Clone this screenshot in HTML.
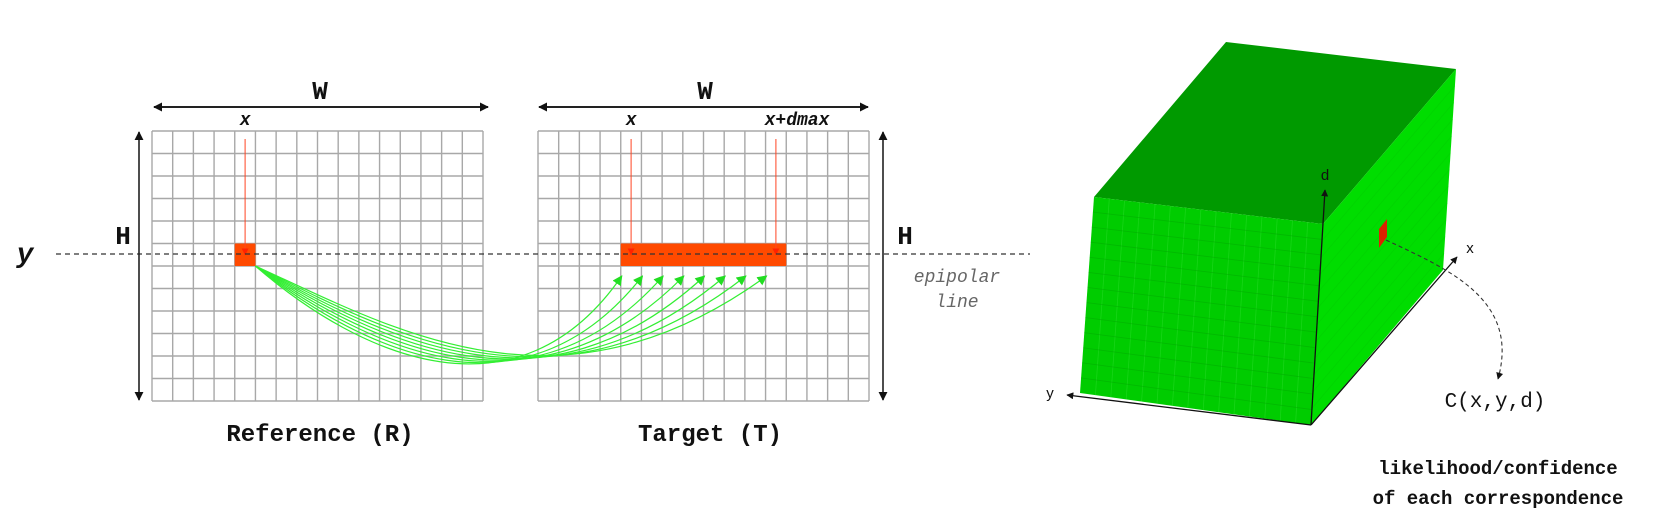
<!DOCTYPE html>
<html><head><meta charset="utf-8"><style>
html,body{margin:0;padding:0;background:#fff;}
svg{display:block;}
.mono{font-family:"Liberation Mono","DejaVu Sans Mono",monospace;font-weight:bold;fill:#111;}
.sans{font-family:"Liberation Sans","DejaVu Sans",sans-serif;fill:#111;}
</style></head><body>
<svg id="fig" width="1656" height="532" viewBox="0 0 1656 532" xmlns="http://www.w3.org/2000/svg">
<defs>
<marker id="ah" viewBox="0 0 10 10" refX="9" refY="5" markerWidth="9" markerHeight="9" markerUnits="userSpaceOnUse" orient="auto-start-reverse"><path d="M0,0 L10,5 L0,10 z" fill="#111"/></marker>
<marker id="ahs" viewBox="0 0 10 10" refX="9" refY="5" markerWidth="7" markerHeight="7" markerUnits="userSpaceOnUse" orient="auto"><path d="M0,0 L10,5 L0,10 z" fill="#111"/></marker>
<marker id="ag" viewBox="0 0 10 10" refX="9" refY="5" markerWidth="10" markerHeight="10" markerUnits="userSpaceOnUse" orient="auto"><path d="M0,0 L10,5 L0,10 z" fill="#22dd22"/></marker>
<marker id="ar" viewBox="0 0 10 10" refX="9" refY="5" markerWidth="7" markerHeight="7" markerUnits="userSpaceOnUse" orient="auto"><path d="M0,0 L10,5 L0,10 z" fill="#ff2200"/></marker>
</defs>
<g id="left"></g>
<g id="cube"></g>
</svg>
<script>
const NS="http://www.w3.org/2000/svg";
const gridCols=16, gridRows=12;
const refCol=4, matchRow=5;
const dispCount=8;
const refX0=152, tgtX0=538, gridW=331, gridY0=131, gridH=270;
const cw=gridW/gridCols, rh=gridH/gridRows;
const L=document.getElementById('left');
function mk(tag,attrs,parent){const e=document.createElementNS(NS,tag);for(const k in attrs)e.setAttribute(k,attrs[k]);(parent||L).appendChild(e);return e;}
function txt(s,x,y,cls,size,extra,parent){const t=mk('text',Object.assign({x:x,y:y,'class':cls,'font-size':size,'text-anchor':'middle'},extra||{}),parent);t.textContent=s;return t;}

function grid(x0,name){
  const g=mk('g',{});
  
  
  for(let i=0;i<=gridCols;i++){mk('line',{x1:x0+i*cw,y1:gridY0,x2:x0+i*cw,y2:gridY0+gridH,stroke:'#a8a8a8','stroke-width':1.4},g);}
  for(let j=0;j<=gridRows;j++){mk('line',{x1:x0,y1:gridY0+j*rh,x2:x0+gridW,y2:gridY0+j*rh,stroke:'#a8a8a8','stroke-width':1.4},g);}
  return g;
}
grid(refX0,'reference-grid');
grid(tgtX0,'target-grid');

let r=mk('rect',{x:refX0+refCol*cw,y:gridY0+matchRow*rh,width:cw,height:rh,fill:'#ff4a00'});


r=mk('rect',{x:tgtX0+refCol*cw,y:gridY0+matchRow*rh,width:cw*dispCount,height:rh,fill:'#ff4a00'});



const yRow=gridY0+(matchRow+0.5)*rh;
[[refX0+(refCol+0.5)*cw,'ref-x-pointer'],[tgtX0+(refCol+0.5)*cw,'target-x-pointer'],[tgtX0+(refCol+dispCount-0.5)*cw,'target-xdmax-pointer']].forEach(p=>{
  const l=mk('line',{x1:p[0],y1:139,x2:p[0],y2:yRow,stroke:'#ff4422','stroke-width':1,'marker-end':'url(#ar)'});
  
  
});

let d=mk('line',{x1:56,y1:254,x2:1030,y2:254,stroke:'#333','stroke-width':1.3,'stroke-dasharray':'5,4'});



const sx=refX0+(refCol+1)*cw, sy=gridY0+(matchRow+1)*rh;
for(let k=0;k<dispCount;k++){
  const ex=tgtX0+(refCol+k)*cw+cw*0.05, ey=276;
  const c1x=380+(k-3.5)*5, c1y=345-(k-3.5)*4;
  const c2x=540+(k-3.5)*6, c2y=425;
  const p=mk('path',{d:`M${sx},${sy} C${c1x},${c1y} ${c2x},${c2y} ${ex},${ey}`,fill:'none',stroke:'#33ee33','stroke-width':1.2,'marker-end':'url(#ag)'});
  
  
}

[[153,489,320,'ref-width'],[538,869,705,'target-width']].forEach(a=>{
  const l=mk('line',{x1:a[0]+1,y1:107,x2:a[1]-1,y2:107,stroke:'#222','stroke-width':2,'marker-start':'url(#ah)','marker-end':'url(#ah)'});
  
  
  const t=txt('W',a[2],99,'mono',26);
  
  
});
[[139,123,'ref-height'],[883,905,'target-height']].forEach(a=>{
  const l=mk('line',{x1:a[0],y1:132,x2:a[0],y2:400,stroke:'#222','stroke-width':1.6,'marker-start':'url(#ah)','marker-end':'url(#ah)'});
  
  
  const t=txt('H',a[1],244,'mono',26);
  
  
});
let t;
t=txt('y',25,262,'mono',28,{'font-style':'italic'});


t=txt('x',refX0+(refCol+0.5)*cw,125,'mono',18,{'font-style':'italic'});


t=txt('x',tgtX0+(refCol+0.5)*cw,125,'mono',18,{'font-style':'italic'});


t=txt('x+dmax',797,125,'mono',18,{'font-style':'italic'});


t=txt('epipolar',957,282,'mono',18,{'font-style':'italic',style:'font-weight:normal;fill:#666'});


t=txt('line',957,307,'mono',18,{'font-style':'italic',style:'font-weight:normal;fill:#666'});


t=txt('Reference (R)',320,441,'mono',24);


t=txt('Target (T)',710,441,'mono',24);



const C=document.getElementById('cube');
const A=[1226,42],B=[1456,69],Cc=[1094,197],D=[1323,224],E=[1080,393],F=[1311,425],G=[1443,270];
const pts=a=>a.map(p=>p.join(',')).join(' ');
let f=mk('polygon',{points:pts([A,B,D,Cc]),fill:'#009a00'},C);


f=mk('polygon',{points:pts([Cc,D,F,E]),fill:'#00cc00'},C);


f=mk('polygon',{points:pts([D,B,G,F]),fill:'#00dd00'},C);


const lerp=(p,q,s)=>[p[0]+(q[0]-p[0])*s,p[1]+(q[1]-p[1])*s];
for(let i=1;i<15;i++){const a=lerp(Cc,D,i/15),b=lerp(E,F,i/15);mk('line',{x1:a[0],y1:a[1],x2:b[0],y2:b[1],stroke:'#33e033','stroke-width':0.8,'stroke-opacity':0.45},C);}
for(let i=1;i<13;i++){const a=lerp(Cc,E,i/13),b=lerp(D,F,i/13);mk('line',{x1:a[0],y1:a[1],x2:b[0],y2:b[1],stroke:'#00a400','stroke-width':0.9,'stroke-opacity':0.45},C);}
for(let i=1;i<12;i++){const a=lerp(D,F,i/12),b=lerp(B,G,i/12);mk('line',{x1:a[0],y1:a[1],x2:b[0],y2:b[1],stroke:'#00c400','stroke-width':0.7,'stroke-opacity':0.35},C);}
f=mk('polygon',{points:'1379,229 1387,219 1387,237 1379,248',fill:'#dd2200'},C);


[[F,[1325,190],'d-axis'],[F,[1457,257],'x-axis'],[F,[1067,395],'y-axis']].forEach(a=>{
  const l=mk('line',{x1:a[0][0],y1:a[0][1],x2:a[1][0],y2:a[1][1],stroke:'#111','stroke-width':1.3,'marker-end':'url(#ahs)'},C);
  
  
});
t=txt('d',1325,180,'sans',15,null,C);


t=txt('x',1470,253,'sans',15,null,C);


t=txt('y',1050,398,'sans',15,null,C);


let dc=mk('path',{d:'M1386,240 C1450,270 1520,300 1498,379',fill:'none',stroke:'#333','stroke-width':1.1,'stroke-dasharray':'4,3','marker-end':'url(#ahs)'},C);


t=txt('C(x,y,d)',1495,407,'mono',21,{style:'font-weight:normal'},C);


t=txt('likelihood/confidence',1498,474,'mono',19,null,C);


t=txt('of each correspondence',1498,504,'mono',19,null,C);


</script>
</body></html>
